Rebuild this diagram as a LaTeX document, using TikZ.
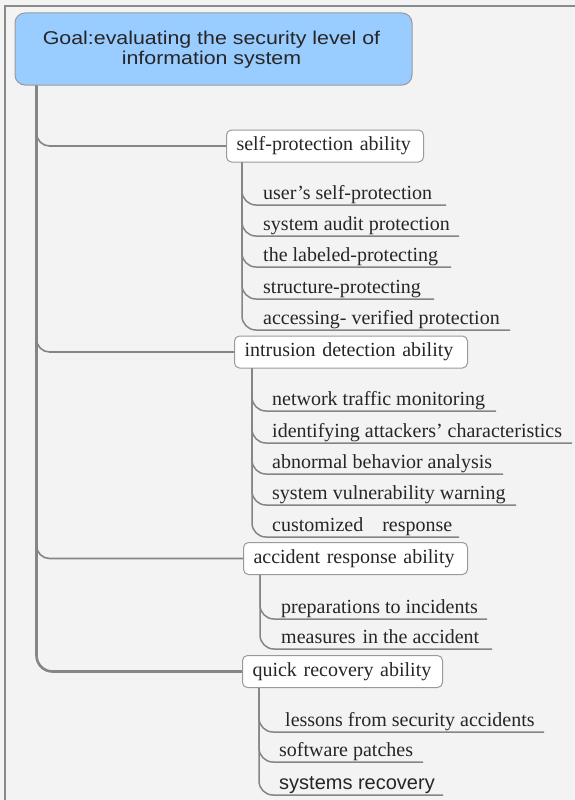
\documentclass[tikz,border=0pt]{standalone}
\usepackage{fontspec}
\setmainfont{Liberation Serif}
\newfontfamily\goalfont[FakeStretch=1.155]{Liberation Sans}
\newfontfamily\plainsans{Liberation Sans}
\definecolor{bgc}{HTML}{F3F3F3}
\definecolor{framec}{HTML}{8A8A8A}
\definecolor{rootblue}{HTML}{99CCFF}
\definecolor{linec}{HTML}{858585}
\definecolor{boxc}{HTML}{9A9A9A}
\definecolor{txtc}{HTML}{262626}
\begin{document}
\begin{tikzpicture}[x=1pt,y=-1pt,
  rootbox/.style={draw=boxc, line width=1pt, fill=rootblue, rounded corners=10pt,
    minimum width=397pt, minimum height=72pt, align=center, inner sep=0pt,
    text=txtc, font=\goalfont\fontsize{18.5}{19}\selectfont},
  catbox/.style={draw=boxc, line width=1pt, fill=white, rounded corners=5pt,
    inner xsep=10pt, inner ysep=0pt, minimum height=32pt, align=left, anchor=west,
    text=txtc, font=\fontsize{20}{22}\selectfont},
  leaf/.style={anchor=base west, inner sep=0pt, text=txtc, font=\fontsize{20}{22}\selectfont},
  trunkline/.style={draw=linec, line width=2.6pt, rounded corners=16pt},
  branchline/.style={draw=linec, line width=1.6pt, rounded corners=13pt},
  leafline/.style={draw=linec, line width=1.5pt, rounded corners=14pt}
]
\useasboundingbox (0,0) rectangle (575,800);
\fill[bgc] (0,0) rectangle (575,800);
\draw[framec, line width=1.5pt] (5,800) -- (5,6) -- (575,6);

% root
\node[rootbox] (root) at (213.5,49) {};
\node[inner sep=0pt, anchor=base, text=txtc, font=\goalfont\fontsize{18.5}{19}\selectfont] (rootl1) at (211.5,45) {Goal:evaluating the security level of};
\node[inner sep=0pt, anchor=base, text=txtc, font=\goalfont\fontsize{18.5}{19}\selectfont] (rootl2) at (211.5,64) {information system};

% categories
\node[catbox, text width=177pt] (sp) at (226,146) {self-protection ability};
\node[catbox, text width=213pt] (id) at (234,352) {intrusion detection ability};
\node[catbox, text width=204pt] (ar) at (243,558.5) {accident response ability};
\node[catbox, text width=180pt] (qr) at (242,671.5) {quick recovery ability};

% branches from trunk
\draw[branchline] ([xshift=22pt]root.south west) |- (sp.west);
\draw[branchline] ([xshift=22pt]root.south west) |- (id.west);
\draw[branchline] ([xshift=22pt]root.south west) |- (ar.west);
\draw[trunkline] ([xshift=22pt]root.south west) |- (qr.west);

% self-protection leaves
\node[leaf] (sp1) at (263,199.5) {user’s self-protection};
\node[leaf] (sp2) at (263,230.5) {system audit protection};
\node[leaf] (sp3) at (263,261.5) {the labeled-protecting};
\node[leaf] (sp4) at (263,293.5) {structure-protecting};
\node[leaf] (sp5) at (263,324.5) {accessing- verified protection};
\coordinate (sp1e) at (446,205);
\coordinate (sp2e) at (459,236);
\coordinate (sp3e) at (451,267);
\coordinate (sp4e) at (434,299);
\coordinate (sp5e) at (510,330);
\foreach \i in {1,...,5} \draw[leafline] ([xshift=16pt]sp.south west) |- (sp\i e);

% intrusion detection leaves
\node[leaf] (id1) at (272,405.5) {network traffic monitoring};
\node[leaf] (id2) at (272,437.5) {identifying attackers’ characteristics};
\node[leaf] (id3) at (272,468.5) {abnormal behavior analysis};
\node[leaf] (id4) at (272,499.5) {system vulnerability warning};
\node[leaf] (id5) at (272,531.5) {customized\hspace{19pt}response};
\coordinate (id1e) at (496,411);
\coordinate (id2e) at (572,443);
\coordinate (id3e) at (503,474);
\coordinate (id4e) at (516,505);
\coordinate (id5e) at (459,537);
\foreach \i in {1,...,5} \draw[leafline] ([xshift=18pt]id.south west) |- (id\i e);

% accident response leaves
\node[leaf] (ar1) at (281,613.5) {preparations to incidents};
\node[leaf] (ar2) at (281,643.5) {measures\hspace{7pt}in the accident};
\coordinate (ar1e) at (487,619);
\coordinate (ar2e) at (492,649);
\foreach \i in {1,2} \draw[leafline] ([xshift=17pt]ar.south west) |- (ar\i e);

% quick recovery leaves
\node[leaf] (qr1) at (285,726.5) {lessons from security accidents};
\node[leaf] (qr2) at (279,756.5) {software patches};
\node[leaf, font=\plainsans\fontsize{20}{22}\selectfont] (qr3) at (279,789.5) {systems recovery};
\coordinate (qr1e) at (544,732);
\coordinate (qr2e) at (423,762);
\coordinate (qr3e) at (443,795);
\foreach \i in {1,2,3} \draw[leafline] ([xshift=17pt]qr.south west) |- (qr\i e);
\end{tikzpicture}
\end{document}
